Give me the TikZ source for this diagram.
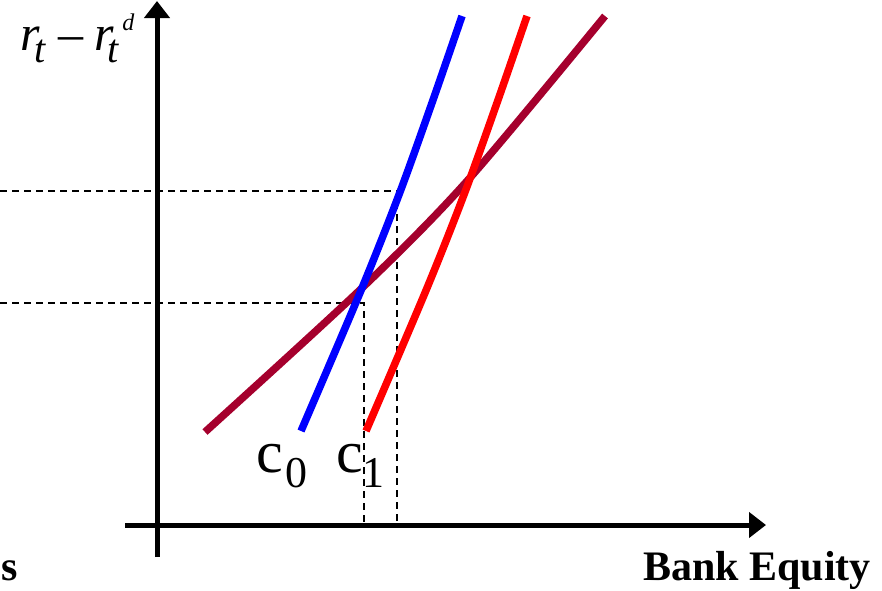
\documentclass[tikz,border=0pt]{standalone}
\usepackage{fontspec}
\setmainfont{Liberation Serif}
\usepackage{xcolor}
\usetikzlibrary{arrows.meta}

\definecolor{capred}{RGB}{165,0,45}

\newcommand{\lowsub}[3]{\kern#1\raisebox{-#2}{\fontsize{#3}{#3}\selectfont}}

\begin{document}
\begin{tikzpicture}[
    x=1pt, y=-1pt,
    axis/.style  = {line width=5pt, -{Triangle[length=17pt,width=25pt]}},
    curve/.style = {line width=7.5pt},
    guide/.style = {line width=1.3pt, dash pattern=on 7pt off 5pt},
    big/.style   = {inner sep=0pt, anchor=base west},
]
\useasboundingbox (0,0) rectangle (882,590);

% ---------------- Guide lines ----------------
\coordinate (hiL) at (0,191);
\coordinate (hiC) at (397,191);
\coordinate (hiB) at (397,527);
\coordinate (loL) at (0,303);
\coordinate (loC) at (364,303);
\coordinate (loB) at (364,527);
\draw[guide] (hiL) -- (hiC) -- (hiB);
\draw[guide] (loL) -- (loC) -- (loB);

% ---------------- Axes ----------------
\coordinate (yb) at (157,557);
\coordinate (yt) at (157,1);
\coordinate (xl) at (125,525);
\coordinate (xr) at (766,525);
\draw[axis] (yb) -- (yt);
\draw[axis] (xl) -- (xr);

% ---------------- Curves ----------------
\draw[curve, capred] plot[smooth] coordinates {(205,432) (362,288) (468,180) (605,16)};
\draw[curve, blue]   plot[smooth] coordinates {(301,431) (362,288) (400,192) (433,100) (462,16)};
\draw[curve, red]    plot[smooth] coordinates {(366,431) (427,288) (465,192) (498,100) (527,16)};

% ---------------- Labels ----------------
\node[big, font=\fontsize{60}{60}\selectfont] (c0) at (256,472)
    {c\kern3pt\raisebox{-15pt}{\fontsize{44}{44}\selectfont 0}};
\node[big, font=\fontsize{60}{60}\selectfont] (c1) at (336,472)
    {c\kern0pt\raisebox{-15pt}{\fontsize{44}{44}\selectfont 1}};

\node[big, font=\fontsize{50}{50}\selectfont\itshape] (ylab) at (20,50)
    {r\kern-5pt\raisebox{-12pt}{\fontsize{40}{40}\selectfont t}\kern13pt{\upshape\textendash}\kern11pt
     r\kern-7pt\raisebox{-12pt}{\fontsize{40}{40}\selectfont t}\kern4pt\raisebox{20pt}{\fontsize{24}{24}\selectfont d}};

\node[big, font=\fontsize{42}{42}\selectfont\bfseries] (xlab) at (643,580) {Bank Equity};
\node[inner sep=0pt, anchor=base east, font=\fontsize{42}{42}\selectfont\bfseries] (cut) at (18,580) {s};
\end{tikzpicture}
\end{document}
